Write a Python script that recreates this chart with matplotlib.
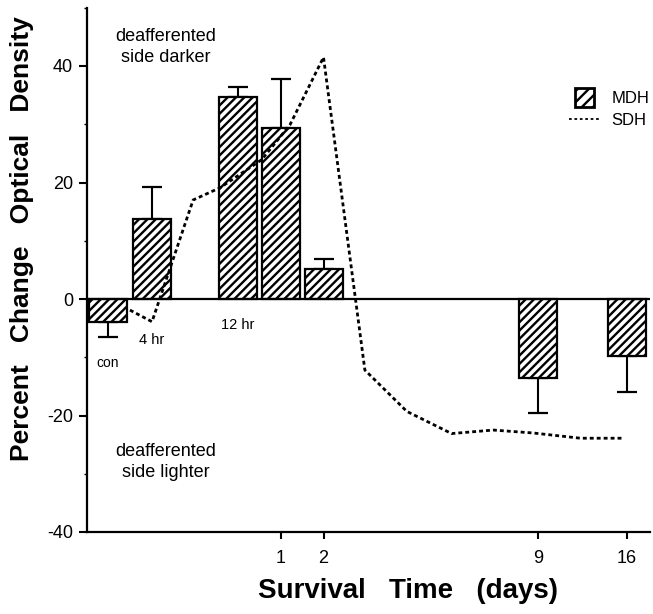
import numpy as np
import matplotlib
matplotlib.use("Agg")
import matplotlib.pyplot as plt
from matplotlib.patches import Patch, Rectangle
from matplotlib.lines import Line2D
from matplotlib.legend_handler import HandlerPatch
from matplotlib.ticker import NullLocator

plt.rcParams['font.family'] = ['Liberation Sans', 'DejaVu Sans']
plt.rcParams['hatch.linewidth'] = 1.7
plt.rcParams['axes.unicode_minus'] = False

# ---------------- data ----------------
mdh_days = [0, 1/6, 0.5, 1, 2, 9, 16]            # con, 4 hr, 12 hr, 1, 2, 9, 16 days
mdh_values = [-3.9, 13.7, 34.7, 29.3, 5.1, -13.6, -9.8]
mdh_err = [2.6, 5.5, 1.7, 8.4, 1.7, 6.0, 6.2]

sdh_days = [0.084, 1/6, 0.327, 0.432, 0.78, 1.22, 2.0, 3.35, 4.72, 6.18, 7.54, 8.84, 12.34, 15.76]
sdh_values = [-1.9, -3.9, 17.0, 19.1, 23.9, 29.9, 41.5, -12.2, -19.3, -23.1, -22.5, -23.0, -23.9, -23.9]

cat_labels = ['con', '4 hr', '12 hr']
cat_days = [0, 1/6, 0.5]

xtick_days = [1, 2, 9, 16]
xtick_labels = ['1', '2', '9', '16']

yticks_major = [-40, -20, 0, 20, 40]
yticks_minor = [-30, -10, 10, 30, 50]

# ---------------- non-linear time axis (piecewise linear) ----------------
scale_days = [-1, 0, 1/6, 0.5, 1, 2, 9, 16, 30]
scale_pos = [-159.5, 107.5, 152, 237.5, 280.5, 323.5, 538, 627, 803]


def fwd(d):
    return np.interp(d, scale_days, scale_pos)


def inv(p):
    return np.interp(p, scale_pos, scale_days)


W, H = 653, 614
fig = plt.figure(figsize=(W / 100, H / 100), dpi=100)
ax = fig.add_axes([87 / W, 1 - 532 / H, (650 - 87) / W, (532 - 7.75) / H])
ax.set_xscale('function', functions=(fwd, inv))
ax.set_xlim(inv(87), inv(650))
ax.set_ylim(-40, 50)

# bars (constant visual width)
half = 19
centers = fwd(np.array(mdh_days))
lefts = inv(centers - half)
rights = inv(centers + half)
ax.bar(lefts, mdh_values, width=rights - lefts, align='edge', facecolor='white',
       edgecolor='black', linewidth=1.6, hatch='////', zorder=3)

# one-sided error bars
vals = np.array(mdh_values)
errs = np.array(mdh_err)
lower = np.where(vals < 0, errs, 0)
upper = np.where(vals >= 0, errs, 0)
ax.errorbar(mdh_days, mdh_values, yerr=[lower, upper], fmt='none', ecolor='black',
            elinewidth=1.5, capsize=7, capthick=1.6, zorder=2)

# SDH dotted line
ax.plot(sdh_days, sdh_values, color='black', lw=2.0, dashes=(1.4, 1.1), zorder=4)

# zero line
ax.axhline(0, color='black', lw=1.6, zorder=3)

# spines & ticks
for s in ['top', 'right']:
    ax.spines[s].set_visible(False)
for s in ['left', 'bottom']:
    ax.spines[s].set_linewidth(1.6)

ax.set_yticks(yticks_major)
ax.set_yticks(yticks_minor, minor=True)
ax.tick_params(axis='y', which='major', direction='out', length=6, width=1.5,
               labelsize=13, pad=4)
ax.tick_params(axis='y', which='minor', direction='out', length=2.5, width=1)

ax.set_xticks(xtick_days, xtick_labels)
ax.xaxis.set_minor_locator(NullLocator())
ax.tick_params(axis='x', direction='out', length=5, width=1.5, labelsize=13, pad=8)

# category labels under the early bars
cat_y = [-11, -7, -4.5]
cat_sizes = [10, 10.5, 10.5]
for lab, d, y, fs in zip(cat_labels, cat_days, cat_y, cat_sizes):
    ax.text(d, y, lab, ha='center', va='center', fontsize=fs)

# annotations
ax.text(0.14, 0.925, 'deafferented\nside darker', transform=ax.transAxes,
        ha='center', va='center', fontsize=13, linespacing=1.3)
ax.text(0.14, 0.134, 'deafferented\nside lighter', transform=ax.transAxes,
        ha='center', va='center', fontsize=13, linespacing=1.3)

# axis labels
fig.text(22 / W, 1 - 239 / H, 'Percent   Change   Optical   Density', rotation=90,
         ha='center', va='center', fontsize=19, fontweight='bold')
fig.text(408 / W, 1 - 591 / H, 'Survival   Time   (days)', ha='center', va='center',
         fontsize=20, fontweight='bold')


# legend
def square_patch(legend, orig_handle, xdescent, ydescent, width, height, fontsize):
    side = height * 1.6
    return Rectangle((-xdescent + (width - side) / 2, -ydescent + (height - side) / 2),
                     side, side)


handles = [Patch(facecolor='white', edgecolor='black', hatch='///', lw=2, label='MDH'),
           Line2D([], [], color='black', lw=1.3, dashes=(1.5, 1.5), label='SDH')]
fig.legend(handles=handles, loc='upper left', bbox_to_anchor=(569 / W, 1 - 91 / H),
           frameon=False, fontsize=12, handlelength=1.85, handletextpad=0.7,
           borderpad=0, borderaxespad=0, labelspacing=0.4,
           handler_map={Patch: HandlerPatch(patch_func=square_patch)})

fig.savefig('out.png', dpi=100)
